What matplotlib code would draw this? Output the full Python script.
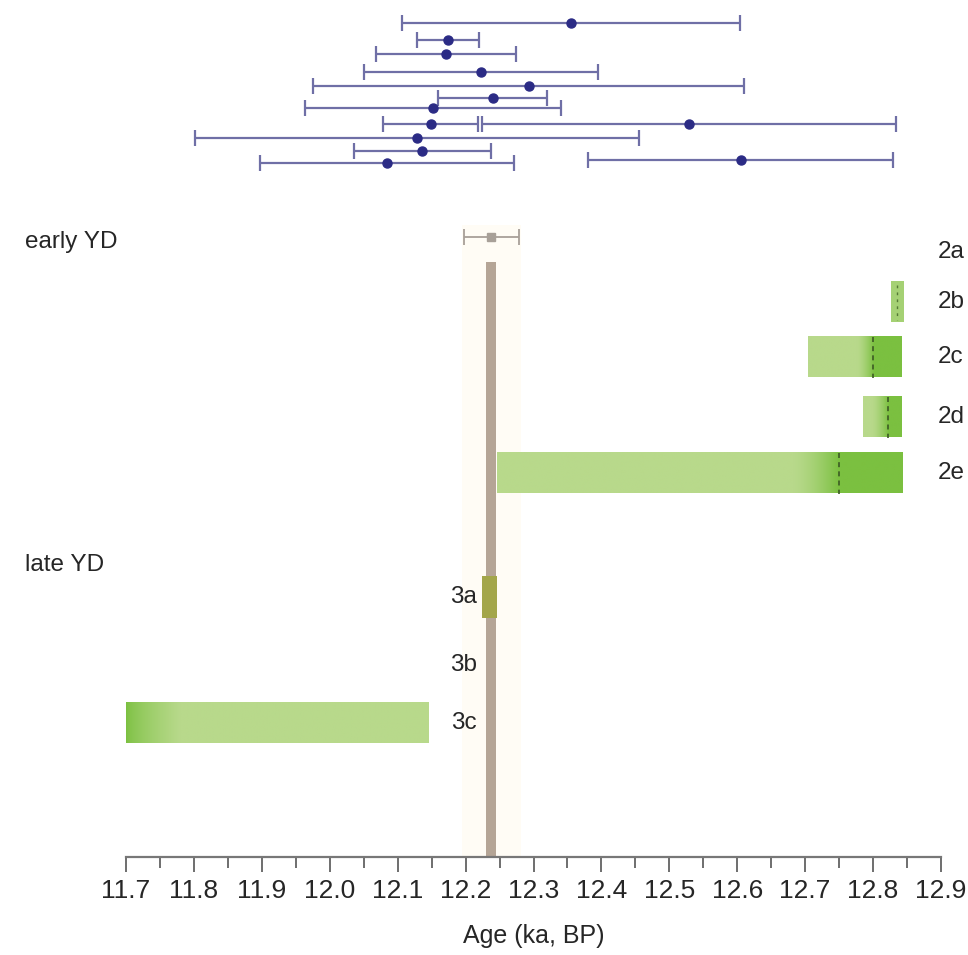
import numpy as np
import matplotlib
matplotlib.use("Agg")
import matplotlib.pyplot as plt
from matplotlib.colors import LinearSegmentedColormap

plt.rcParams['font.family'] = ['Liberation Sans', 'DejaVu Sans']

# ---------------- data ----------------
# top: individual dates (ka BP) with 1-sigma errors
date_ages = [12.355, 12.174, 12.171, 12.223, 12.293, 12.240, 12.152,
             12.149, 12.529, 12.128, 12.136, 12.084, 12.605]
date_errs = [0.249, 0.046, 0.103, 0.172, 0.317, 0.080, 0.189,
             0.070, 0.305, 0.327, 0.101, 0.187, 0.225]

# reference age (vertical bar) with its error
ref_age = 12.238
ref_err = 0.040

# early YD rows
early_labels = ['2a', '2b', '2c', '2d', '2e']
early_start = [None, 12.826, 12.704, 12.785, 12.246]
early_end = [None, 12.844, 12.841, 12.841, 12.843]
early_mark = [None, 12.835, 12.800, 12.822, 12.750]

# late YD rows
late_labels = ['3a', '3b', '3c']
late_start = [12.224, None, 11.700]
late_end = [12.246, None, 12.146]

xticks = [11.7, 11.8, 11.9, 12.0, 12.1, 12.2, 12.3, 12.4, 12.5, 12.6, 12.7, 12.8, 12.9]

# ---------------- figure ----------------
W, H = 968, 955
fig = plt.figure(figsize=(W / 100, H / 100), dpi=100)
axis_y = 857
ax = fig.add_axes([126 / W, 1 - axis_y / H, (941 - 126) / W, axis_y / H])
ax.set_xlim(11.7, 12.9)
ax.set_ylim(axis_y, 0)

light = '#b8d98b'
dark = '#7bc040'
cmap = LinearSegmentedColormap.from_list('g', [light, dark])
txt = '#262626'
lab_fs = 17.5

# faint band behind reference bar
ax.add_patch(plt.Rectangle((ref_age - ref_err - 0.003, 225), 2 * ref_err + 0.006,
                           axis_y - 225, facecolor='#fffcf5', edgecolor='none', zorder=0))

# top error bars
date_y = [23, 40, 54, 72, 86, 98, 108, 124, 124, 138, 151, 163, 160]
ax.errorbar(date_ages, date_y, xerr=date_errs, fmt='o', color='#2b2b85',
            markersize=6.5, ecolor='#6f6fa6', elinewidth=1.6, capsize=6,
            capthick=1.6, zorder=3)

# reference error bar and bar
ax.errorbar([ref_age], [237], xerr=[ref_err], fmt='s', color='#a8a098',
            markersize=6, ecolor='#a8a098', elinewidth=1.3, capsize=6,
            capthick=1.3, zorder=3)
ax.bar([ref_age], [axis_y - 262], bottom=262, width=0.0147, color='#b5a596',
       zorder=2)


def grad_bar(x0, x1, yc, h, t_func):
    xs = np.linspace(x0, x1, 400)
    t = t_func(xs)[None, :]
    ax.imshow(t, cmap=cmap, vmin=0, vmax=1, extent=[x0, x1, yc + h / 2, yc - h / 2],
              aspect='auto', interpolation='bilinear', zorder=4)


early_y = [252, 302, 357, 417, 473]
bar_h = 41
for lab, s, e, m, yc in zip(early_labels, early_start, early_end, early_mark, early_y):
    fig.text(938 / W, 1 - yc / H, lab, ha='left', va='center', fontsize=lab_fs, color=txt)
    if s is None:
        continue
    if lab == '2b':
        grad_bar(s, e, yc, bar_h, lambda xs: np.full_like(xs, 0.3))
        ax.vlines(m, yc - bar_h / 2 + 3, yc + bar_h / 2 - 3, colors='#557a35',
                  linestyles=(0, (2, 3)), lw=1.0, zorder=5)
        continue
    ramp = 0.07 if lab == '2e' else 0.025
    grad_bar(s, e, yc, bar_h,
             lambda xs, m=m, ramp=ramp: np.clip((xs - (m - ramp)) / ramp, 0, 1) ** 1.5)
    ax.vlines(m, yc - bar_h / 2, yc + bar_h / 2, colors='#3d5a25',
              linestyles=(0, (3, 2.5)), lw=1.2, zorder=5)

late_y = [597, 665, 723]
for lab, s, e, yc in zip(late_labels, late_start, late_end, late_y):
    fig.text(477 / W, 1 - yc / H, lab, ha='right', va='center', fontsize=lab_fs, color=txt)
    if s is None:
        continue
    if lab == '3a':
        ax.add_patch(plt.Rectangle((s, yc - 21), e - s, 42, facecolor='#a3a64a',
                                   edgecolor='none', zorder=4))
    else:
        grad_bar(s, e, yc, bar_h,
                 lambda xs, s=s: 1 - np.clip((xs - s) / 0.08, 0, 1) ** 0.7)

fig.text(25 / W, 1 - 242 / H, 'early YD', ha='left', va='center', fontsize=lab_fs, color=txt)
fig.text(25 / W, 1 - 565 / H, 'late YD', ha='left', va='center', fontsize=lab_fs, color=txt)

# axis styling
for sp in ['top', 'left', 'right']:
    ax.spines[sp].set_visible(False)
ax.spines['bottom'].set_color('#777777')
ax.spines['bottom'].set_linewidth(1.6)
ax.set_yticks([])
ax.set_xticks(xticks)
ax.set_xticklabels([f'{v:.1f}' for v in xticks])
ax.set_xticks(np.arange(11.75, 12.9, 0.1), minor=True)
ax.tick_params(axis='x', which='major', length=11, width=1.2, color='#555555',
               labelsize=19, pad=5, labelcolor=txt)
ax.tick_params(axis='x', which='minor', length=8, width=1.2, color='#555555')
ax.set_xlabel('Age (ka, BP)', fontsize=18, color=txt, labelpad=15)
ax.set_facecolor('none')

fig.savefig('out.png', dpi=100)
